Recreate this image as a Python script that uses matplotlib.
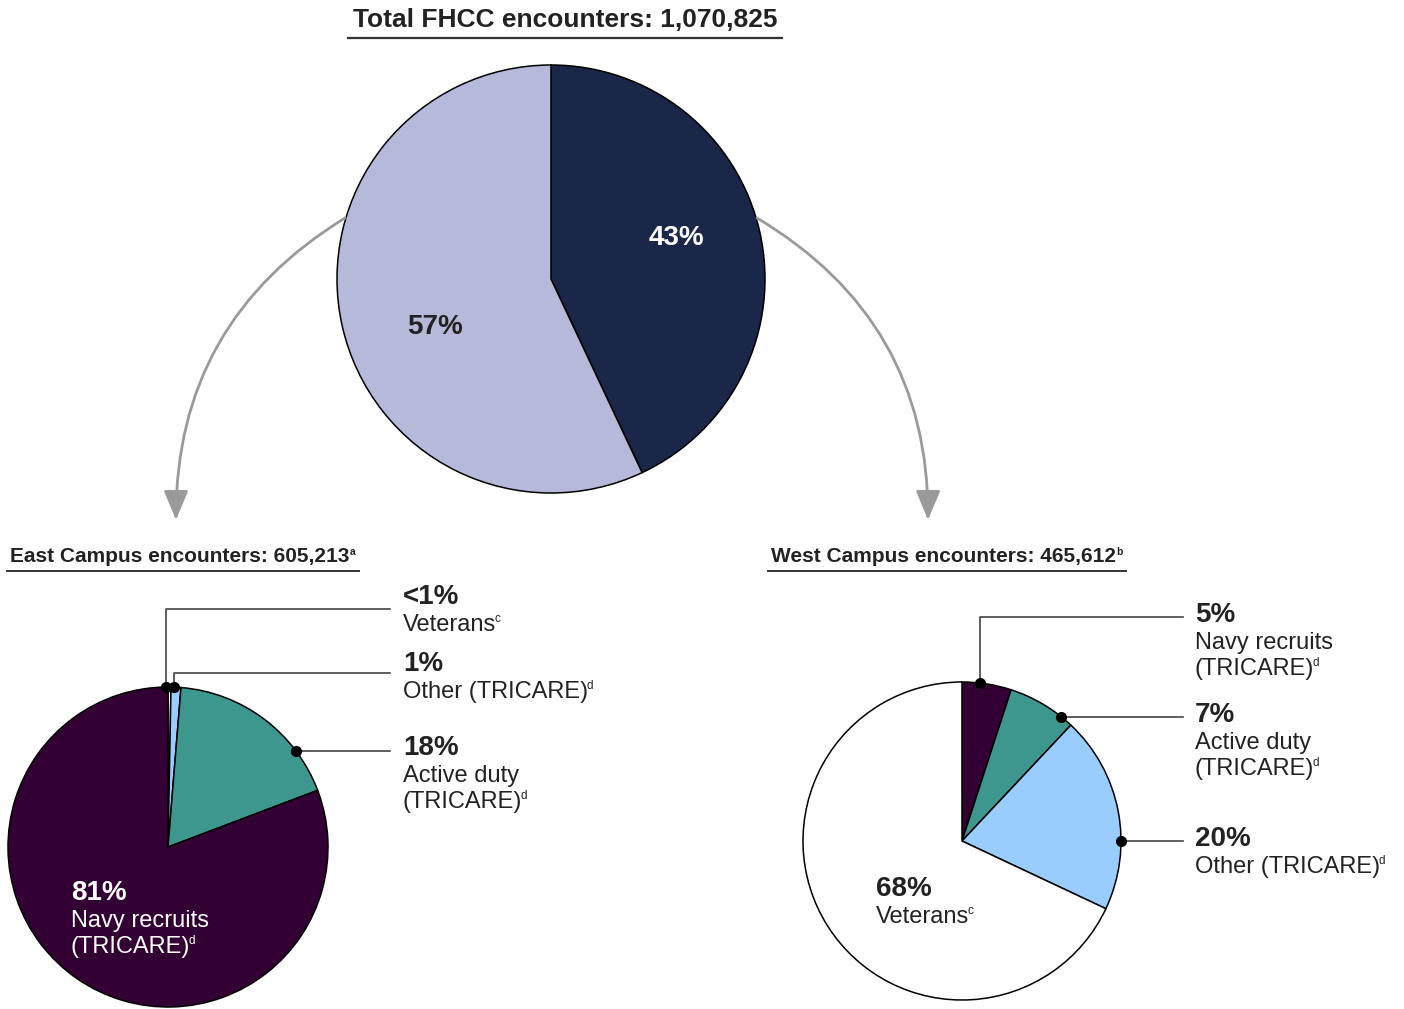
import numpy as np
import matplotlib.pyplot as plt

# figure is laid out in pixel units, y measured from the top of the image
W, H = 1404, 1009

top_title = 'Total FHCC encounters: 1,070,825'
top_names = ['West Campus', 'East Campus']
top_shares = [43, 57]
top_text = ['43%', '57%']

east_title = 'East Campus encounters: 605,213'
east_names = ['Veterans', 'Other (TRICARE)', 'Active duty\n(TRICARE)', 'Navy recruits\n(TRICARE)']
east_shares = [0.3, 1, 18, 81]
east_text = ['<1%', '1%', '18%', '81%']

west_title = 'West Campus encounters: 465,612'
west_names = ['Navy recruits\n(TRICARE)', 'Active duty\n(TRICARE)', 'Other (TRICARE)', 'Veterans']
west_shares = [5, 7, 20, 68]
west_text = ['5%', '7%', '20%', '68%']

sup_of = {'Veterans': 'c', 'TRICARE': 'd'}

colors = {'Navy recruits': '#330033', 'Active duty': '#3d978e',
          'Other': '#99ccff', 'Veterans': '#ffffff'}
TXT = '#222222'
FONT = ['Liberation Sans', 'DejaVu Sans']
plt.rcParams['font.family'] = FONT


def Y(y):
    return H - y


def color_for(name):
    for k, c in colors.items():
        if name.startswith(k):
            return c
    return '#cccccc'


fig = plt.figure(figsize=(W / 100, H / 100), dpi=100)
ax = fig.add_axes([0, 0, 1, 1])
renderer = fig.canvas.get_renderer()


def reset_axes():
    ax.set_xlim(0, W)
    ax.set_ylim(0, H)
    ax.set_aspect('equal')
    ax.axis('off')


reset_axes()


def right_edge(t):
    bb = t.get_window_extent(renderer=renderer)
    return ax.transData.inverted().transform((bb.x1, bb.y1))[0]


def text_sup(x, y, s, sup, size, weight='normal', color=TXT):
    t = ax.text(x, Y(y), s, fontsize=size, fontweight=weight, color=color,
                ha='left', va='center')
    xr = right_edge(t)
    if sup:
        gap = 0.5 if weight == 'bold' else -1.5
        t2 = ax.text(xr + gap, Y(y) + size * 0.36, sup, fontsize=size * 0.5,
                     fontweight=weight, color=color, ha='left', va='center')
        xr = right_edge(t2)
    return xr


def block_label(x, y, pct, name, color=TXT):
    # bold percent on top, then the category lines with footnote marks
    ax.text(x, Y(y), pct, fontsize=20, fontweight='bold', color=color,
            ha='left', va='center')
    lines = name.split('\n')
    for i, line in enumerate(lines):
        sup = None
        for k, v in sup_of.items():
            if line.endswith(k) or line.endswith(k + ')'):
                sup = v
        text_sup(x, y + 28 + 26 * i, line, sup, 17, color=color)


def draw_pie(shares, cols, cx, cy, r):
    wedges, _ = ax.pie(shares, colors=cols, center=(cx, Y(cy)), radius=r,
                       startangle=90, counterclock=False, frame=True,
                       wedgeprops=dict(edgecolor='black', linewidth=1.1))
    reset_axes()
    return wedges


def arc_point(w, frac, cx, cy, r):
    # frac measured clockwise from the wedge's leading edge
    a = np.radians(w.theta2 - frac * (w.theta2 - w.theta1))
    return cx + r * np.cos(a), cy - r * np.sin(a)


# ---- top pie
tcx, tcy, tr = 551, 279, 214
tw = draw_pie(top_shares, ['#1a2749', '#b6b9da'], tcx, tcy, tr)
top_pos = [(676, 238), (435, 327)]
for (x, y), s, c in zip(top_pos, top_text, ['white', TXT]):
    ax.text(x, Y(y), s, fontsize=20, fontweight='bold', color=c,
            ha='center', va='center')

t = ax.text(565, Y(20), top_title, fontsize=19, fontweight='bold',
            color=TXT, ha='center', va='center')
bb = t.get_window_extent(renderer=renderer)
ax.plot([bb.x0 - 5, bb.x1 + 5], [Y(38), Y(38)], color='#333333', lw=1.6)

# curved arrows down to the campus pies
for (x0, y0), (x1, y1), rad in [((345, 218), (176, 520), 0.28),
                                ((757, 218), (928, 520), -0.285)]:
    ax.annotate('', xy=(x1, Y(y1)), xytext=(x0, Y(y0)),
                arrowprops=dict(arrowstyle='-|>,head_length=1.2,head_width=0.5',
                                mutation_scale=15, color='#9a9a9a', lw=2,
                                connectionstyle=f'arc3,rad={rad}',
                                shrinkA=0, shrinkB=0))

# ---- sub titles
for x, y, s, sup in [(10, 557, east_title, 'a'), (771, 557, west_title, 'b')]:
    xr = text_sup(x, y, s, sup, 15, weight='bold')
    ax.plot([x - 3, xr + 3], [Y(571), Y(571)], color='#333333', lw=1.4)

# ---- East pie
ecx, ecy, er = 168, 847, 160
ew = draw_pie(east_shares, [color_for(n) for n in east_names], ecx, ecy, er)
east_anchor = [0.2, 0.3, 0.75, None]
east_leader_y = [609, 673, 748, None]
east_label_y = [597, 664, 748, 893]
east_label_x = [403, 403, 403, 71]
east_dx = [-3, 0, 0, 0]
for i, w in enumerate(ew):
    if east_anchor[i] is None:
        block_label(east_label_x[i], east_label_y[i], east_text[i],
                    east_names[i], color='white')
        continue
    px, py = arc_point(w, east_anchor[i], ecx, ecy, er)
    px += east_dx[i]
    ly = east_leader_y[i]
    if abs(py - ly) > 6:
        ax.plot([px, px, 390], [Y(py), Y(ly), Y(ly)], color='#333333', lw=1.1)
    else:
        ax.plot([px, 390], [Y(py), Y(py)], color='#333333', lw=1.1)
    ax.plot(px, Y(py), 'o', color='black', ms=7, zorder=5)
    block_label(east_label_x[i], east_label_y[i], east_text[i], east_names[i])

# ---- West pie
wcx, wcy, wr = 962, 841, 159
ww = draw_pie(west_shares, [color_for(n) for n in west_names], wcx, wcy, wr)
west_anchor = [0.36, 0.82, 0.65, None]
west_leader_y = [617, 714, 842, None]
west_label_y = [615, 715, 839, 889]
west_label_x = [1195, 1195, 1195, 876]
for i, w in enumerate(ww):
    if west_anchor[i] is None:
        block_label(west_label_x[i], west_label_y[i], west_text[i], west_names[i])
        continue
    px, py = arc_point(w, west_anchor[i], wcx, wcy, wr)
    ly = west_leader_y[i]
    if abs(py - ly) > 6:
        ax.plot([px, px, 1183], [Y(py), Y(ly), Y(ly)], color='#333333', lw=1.1)
    else:
        ax.plot([px, 1183], [Y(py), Y(py)], color='#333333', lw=1.1)
    ax.plot(px, Y(py), 'o', color='black', ms=7, zorder=5)
    block_label(west_label_x[i], west_label_y[i], west_text[i], west_names[i])

reset_axes()
fig.savefig('out.png', dpi=100, facecolor='white')
